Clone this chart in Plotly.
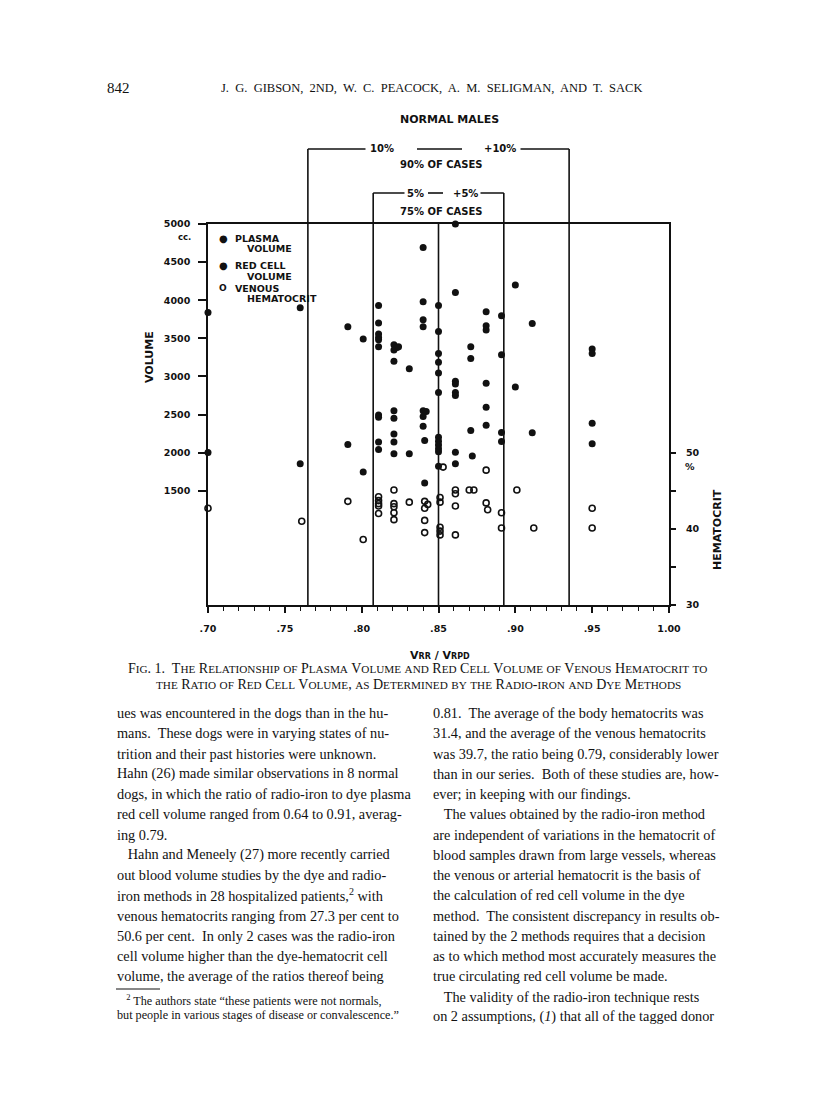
import plotly.graph_objects as go

# ---- data ----
# ratio V_RR / V_RPD for each plotted point
plasma_ratio = [0.700, 0.760, 0.791, 0.801, 0.811, 0.811, 0.811, 0.811, 0.811, 0.811,
                0.821, 0.823, 0.821, 0.824, 0.821, 0.831, 0.840, 0.840, 0.840, 0.840,
                0.850, 0.850, 0.850, 0.850, 0.850, 0.850, 0.861, 0.861, 0.861, 0.861,
                0.861, 0.861, 0.871, 0.871, 0.881, 0.881, 0.881, 0.881, 0.891, 0.891,
                0.900, 0.911, 0.950, 0.950]
plasma_volume = [3840, 3900, 3650, 3490, 3930, 3700, 3555, 3510, 3480, 3390,
                 3415, 3380, 3345, 3390, 3200, 3100, 4690, 3980, 3745, 3650,
                 3930, 3590, 3300, 3185, 3045, 2790, 5000, 4100, 2935, 2900,
                 2790, 2750, 3390, 3235, 3850, 3665, 3610, 2910, 3795, 3285,
                 4200, 3695, 3360, 3300]

red_cell_ratio = [0.700, 0.760, 0.791, 0.801, 0.811, 0.811, 0.811, 0.811, 0.821, 0.821,
                  0.821, 0.821, 0.821, 0.831, 0.840, 0.842, 0.840, 0.840, 0.841, 0.841,
                  0.850, 0.850, 0.850, 0.850, 0.850, 0.850, 0.861, 0.861, 0.872, 0.881,
                  0.881, 0.871, 0.891, 0.891, 0.900, 0.911, 0.950, 0.950]
red_cell_volume = [2000, 1855, 2105, 1745, 2495, 2465, 2140, 2040, 2550, 2450,
                   2245, 2140, 1985, 1985, 2550, 2540, 2475, 2345, 2160, 1600,
                   2200, 2150, 2100, 2050, 2010, 1820, 2005, 1855, 1955, 2595,
                   2360, 2290, 2265, 2145, 2860, 2260, 2385, 2115]

hct_ratio = [0.700, 0.761, 0.791, 0.801, 0.811, 0.811, 0.811, 0.811, 0.811, 0.821,
             0.821, 0.821, 0.821, 0.821, 0.831, 0.841, 0.843, 0.841, 0.841, 0.841,
             0.851, 0.851, 0.851, 0.851, 0.851, 0.853, 0.861, 0.861, 0.861, 0.861,
             0.870, 0.873, 0.881, 0.881, 0.882, 0.891, 0.891, 0.901, 0.912, 0.950,
             0.950]
hct_percent = [42.7, 41.0, 43.6, 38.6, 44.2, 43.7, 43.3, 43.0, 42.0, 45.1,
               43.3, 42.9, 42.1, 41.2, 43.5, 43.6, 43.2, 42.7, 41.1, 39.5,
               44.1, 43.5, 40.2, 39.7, 39.2, 48.1, 45.1, 44.6, 43.0, 39.2,
               45.1, 45.1, 47.7, 43.4, 42.5, 42.1, 40.1, 45.1, 40.1, 42.7,
               40.1]

x_ticks = [0.70, 0.75, 0.80, 0.85, 0.90, 0.95, 1.00]
x_tick_labels = [".70", ".75", ".80", ".85", ".90", ".95", "1.00"]
vol_ticks = [1500, 2000, 2500, 3000, 3500, 4000, 4500, 5000]
hct_ticks = [30, 40, 50]
hct_minor_ticks = [35, 45]

center_ratio = 0.85
band_90 = [0.765, 0.935]   # -10% / +10%
band_75 = [0.8075, 0.8925]  # -5% / +5%

# ---- page geometry (pixels on the 816x1105 page) ----
PAGE_W, PAGE_H = 816, 1105
OFF = 8  # the html body margin moves the figure 8px right and down
L, R, T, B = 208, 669, 224, 605


def pxx(x):
    return (x - L) / (R - L)


def pxy(y):
    return (B - y) / (B - T)


SANS = "DejaVu Sans"
SERIF = "Liberation Serif"
INK = "#111111"

fig = go.Figure()

fig.add_trace(go.Scatter(
    x=plasma_ratio, y=plasma_volume, mode="markers", name="Plasma volume",
    marker=dict(symbol="circle", size=7, color=INK, line=dict(width=0)),
    cliponaxis=False, showlegend=False))
fig.add_trace(go.Scatter(
    x=red_cell_ratio, y=red_cell_volume, mode="markers", name="Red cell volume",
    marker=dict(symbol="circle", size=7, color=INK, line=dict(width=0)),
    cliponaxis=False, showlegend=False))
fig.add_trace(go.Scatter(
    x=hct_ratio, y=hct_percent, mode="markers", name="Venous hematocrit",
    yaxis="y2",
    marker=dict(symbol="circle-open", size=6, color=INK, line=dict(width=1.6)),
    cliponaxis=False, showlegend=False))

tick_font = dict(family=SANS, size=9.5, color=INK, weight="bold")

fig.update_layout(
    width=PAGE_W - OFF, height=PAGE_H - OFF, autosize=False,
    margin=dict(l=L - OFF, r=PAGE_W - R, t=T - OFF, b=PAGE_H - B, autoexpand=False),
    paper_bgcolor="white", plot_bgcolor="white",
    showlegend=False,
    xaxis=dict(range=[0.70, 1.00], tickmode="array", tickvals=x_ticks,
               ticktext=x_tick_labels, ticks="outside", ticklen=6,
               tickwidth=1.5, tickcolor=INK, showline=True, linecolor=INK,
               linewidth=1.6, mirror=True, showgrid=False, zeroline=False,
               tickfont=tick_font, ticklabelstandoff=8,
               minor=dict(tickmode="linear", tick0=0.70, dtick=0.01,
                          ticks="outside", ticklen=4, tickwidth=1.2,
                          tickcolor=INK, showgrid=False)),
    yaxis=dict(range=[0, 5000], tickmode="array", tickvals=vol_ticks,
               ticks="outside", ticklen=8, tickwidth=1.5, tickcolor=INK,
               showline=True, linecolor=INK, linewidth=1.6, mirror=True,
               showgrid=False, zeroline=False, tickfont=tick_font,
               ticklabelstandoff=6),
    yaxis2=dict(range=[30, 80], overlaying="y", side="right",
                tickmode="array", tickvals=hct_ticks,
                ticks="outside", ticklen=6, tickwidth=1.5, tickcolor=INK,
                minor=dict(tickmode="array", tickvals=hct_minor_ticks,
                           ticks="outside", ticklen=6, tickwidth=1.5,
                           tickcolor=INK, showgrid=False),
                showline=False, showgrid=False, zeroline=False,
                tickfont=tick_font, ticklabelstandoff=8),
)

# ---- bracket lines ----
line_style = dict(color=INK, width=1.6)
y90 = pxy(149)
y75 = pxy(193)
for xv in band_90:
    fig.add_shape(type="line", xref="x", yref="paper", x0=xv, x1=xv,
                  y0=0, y1=y90, line=line_style)
fig.add_shape(type="line", xref="x", yref="paper", x0=band_90[0], x1=band_90[1],
              y0=y90, y1=y90, line=line_style)
for xv in band_75:
    fig.add_shape(type="line", xref="x", yref="paper", x0=xv, x1=xv,
                  y0=0, y1=y75, line=line_style)
fig.add_shape(type="line", xref="x", yref="paper", x0=band_75[0], x1=band_75[1],
              y0=y75, y1=y75, line=line_style)
fig.add_shape(type="line", xref="x", yref="paper", x0=center_ratio, x1=center_ratio,
              y0=0, y1=1, line=line_style)


def label(text, x, y, size=9.5, family=SANS, bold=True, xanchor="center",
          bg=None, angle=0, pad=0):
    fig.add_annotation(
        text=text, xref="paper", yref="paper", x=x, y=y, showarrow=False,
        xanchor=xanchor, yanchor="middle", textangle=angle,
        font=dict(family=family, size=size, color=INK,
                  weight="bold" if bold else "normal"),
        bgcolor=bg, borderpad=pad)


# break the top lines where the text sits
label("10%", pxx(382), y90, size=10, bg="white", pad=4)
label("+10%", pxx(500), y90, size=10, bg="white", pad=4)
fig.add_shape(type="line", xref="paper", yref="paper", x0=pxx(396), x1=pxx(484),
              y0=y90, y1=y90, line=dict(color="white", width=4))
fig.add_shape(type="line", xref="paper", yref="paper", x0=pxx(417), x1=pxx(462),
              y0=y90, y1=y90, line=line_style)
label("5%", pxx(415), y75, size=10, bg="white", pad=2)
label("+5%", pxx(465), y75, size=10, bg="white", pad=2)
fig.add_shape(type="line", xref="paper", yref="paper", x0=pxx(425), x1=pxx(454),
              y0=y75, y1=y75, line=dict(color="white", width=4))
fig.add_shape(type="line", xref="paper", yref="paper", x0=pxx(428), x1=pxx(443),
              y0=y75, y1=y75, line=line_style)

label("90% OF CASES", pxx(441), pxy(164), size=10)
label("75% OF CASES", pxx(441), pxy(211), size=10)
label("NORMAL MALES", pxx(449), pxy(119), size=11)

# ---- legend drawn as text ----
label("●", pxx(223), pxy(238), size=10)
label("PLASMA", pxx(234), pxy(238), xanchor="left")
label("VOLUME", pxx(246), pxy(248), xanchor="left")
label("●", pxx(223), pxy(265), size=10)
label("RED CELL", pxx(234), pxy(265), xanchor="left")
label("VOLUME", pxx(246), pxy(276), xanchor="left")
label("O", pxx(223), pxy(288), size=9)
label("VENOUS", pxx(234), pxy(288), xanchor="left")
label("HEMATOCRIT", pxx(246), pxy(298), xanchor="left")

# ---- axis titles ----
label("cc.", pxx(184), pxy(237), size=8.5)
label("VOLUME", pxx(149), pxy(357), size=11, angle=-90)
label("HEMATOCRIT", pxx(717), pxy(530), size=11, angle=-90)
label("%", pxx(690), pxy(466), size=9.5)
label("V<span style='font-size:8px'>RR</span> / V<span style='font-size:8px'>RPD</span>",
      pxx(440), pxy(655), size=11)


# ---- caption in small caps ----
def small_caps(s, small=11.2):
    out, buf = [], ""
    for ch in s:
        if ch.islower():
            buf += ch.upper()
        else:
            if buf:
                out.append(f"<span style='font-size:{small}px'>{buf}</span>")
                buf = ""
            out.append(ch)
    if buf:
        out.append(f"<span style='font-size:{small}px'>{buf}</span>")
    return "".join(out)


caption = [
    "Fig. 1.\u00a0 The Relationship of Plasma Volume and Red Cell Volume of Venous Hematocrit to",
    "the Ratio of Red Cell Volume, as Determined by the Radio-iron and Dye Methods",
]
label(small_caps(caption[0]), pxx(417), pxy(668), size=14, family=SERIF, bold=False)
label(small_caps(caption[1]), pxx(418), pxy(684), size=14, family=SERIF, bold=False)

# ---- running head ----
label("J. G. GIBSON, 2ND, W. C. PEACOCK, A. M. SELIGMAN, AND T. SACK".replace(" ", "&nbsp; "),
      pxx(431), pxy(88), size=12.5, family=SERIF, bold=False)
label("842", pxx(106), pxy(88), size=15, family=SERIF, bold=False, xanchor="left")

# ---- body text ----
left_col = [
    "ues was encountered in the dogs than in the hu-",
    "mans.  These dogs were in varying states of nu-",
    "trition and their past histories were unknown.",
    "Hahn (26) made similar observations in 8 normal",
    "dogs, in which the ratio of radio-iron to dye plasma",
    "red cell volume ranged from 0.64 to 0.91, averag-",
    "ing 0.79.",
    "&nbsp;&nbsp;&nbsp;Hahn and Meneely (27) more recently carried",
    "out blood volume studies by the dye and radio-",
    "iron methods in 28 hospitalized patients,<sup>2</sup> with",
    "venous hematocrits ranging from 27.3 per cent to",
    "50.6 per cent.  In only 2 cases was the radio-iron",
    "cell volume higher than the dye-hematocrit cell",
    "volume, the average of the ratios thereof being",
]
right_col = [
    "0.81.  The average of the body hematocrits was",
    "31.4, and the average of the venous hematocrits",
    "was 39.7, the ratio being 0.79, considerably lower",
    "than in our series.  Both of these studies are, how-",
    "ever; in keeping with our findings.",
    "&nbsp;&nbsp;&nbsp;The values obtained by the radio-iron method",
    "are independent of variations in the hematocrit of",
    "blood samples drawn from large vessels, whereas",
    "the venous or arterial hematocrit is the basis of",
    "the calculation of red cell volume in the dye",
    "method.  The consistent discrepancy in results ob-",
    "tained by the 2 methods requires that a decision",
    "as to which method most accurately measures the",
    "true circulating red cell volume be made.",
    "&nbsp;&nbsp;&nbsp;The validity of the radio-iron technique rests",
    "on 2 assumptions, (<i>1</i>) that all of the tagged donor",
]
footnote = [
    "&nbsp;&nbsp;&nbsp;<sup>2</sup> The authors state \u201cthese patients were not normals,",
    "but people in various stages of disease or convalescence.\u201d",
]

for i, line in enumerate(left_col):
    label(line.replace("  ", "&nbsp; "), pxx(116), pxy(713 + i * 20.25),
          size=14.3, family=SERIF, bold=False, xanchor="left")
for i, line in enumerate(right_col):
    label(line.replace("  ", "&nbsp; "), pxx(432), pxy(713 + i * 20.25),
          size=14.3, family=SERIF, bold=False, xanchor="left")
fig.add_shape(type="line", xref="paper", yref="paper", x0=pxx(116), x1=pxx(160),
              y0=pxy(989), y1=pxy(989), line=dict(color=INK, width=1))
for i, line in enumerate(footnote):
    label(line, pxx(116), pxy(1000 + i * 15), size=12.2, family=SERIF,
          bold=False, xanchor="left")

fig.write_html("out.html")
